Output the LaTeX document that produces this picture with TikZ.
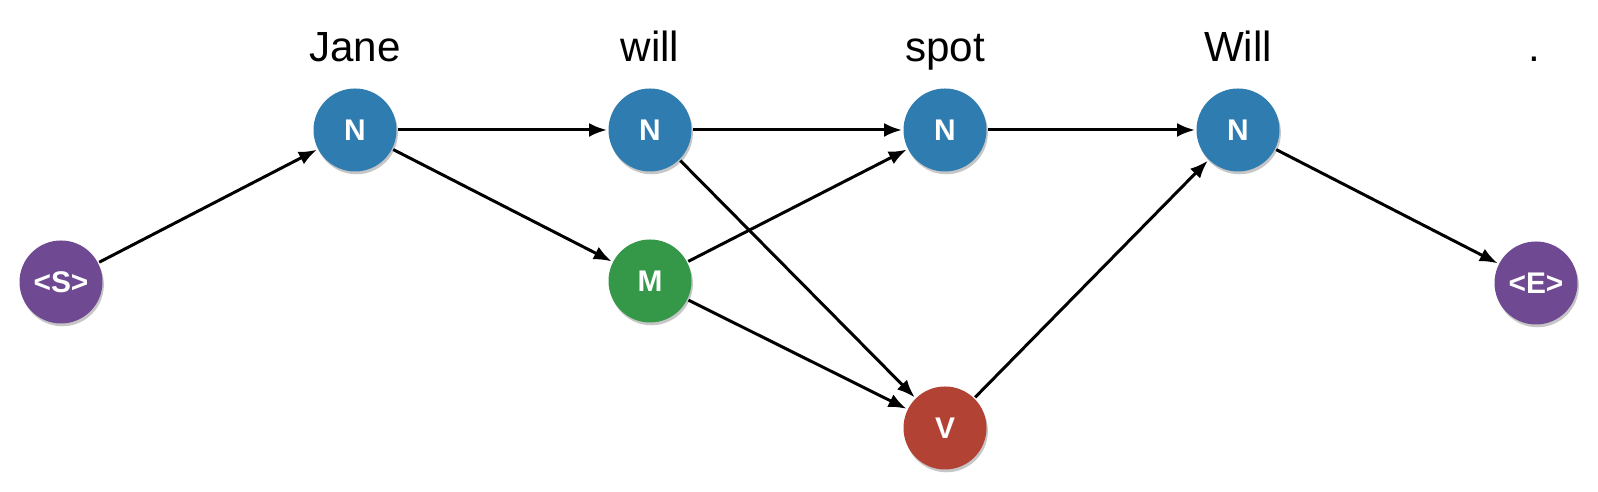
\documentclass[tikz,border=0pt]{standalone}
\usepackage{fontspec}
\setmainfont{Liberation Sans}
\usetikzlibrary{arrows.meta,shadows}
\definecolor{tagblue}{RGB}{47,125,176}
\definecolor{taggreen}{RGB}{52,152,72}
\definecolor{tagred}{RGB}{178,66,52}
\definecolor{tagpurple}{RGB}{111,73,146}
\tikzset{
  tag/.style={circle,minimum size=0.83cm,inner sep=0pt,text=white,font=\bfseries\fontsize{8.5}{8.5}\selectfont,
    drop shadow={opacity=0.45,shadow xshift=0.4pt,shadow yshift=-0.8pt}},
  word/.style={anchor=base,font=\fontsize{12}{12}\selectfont}
}
\begin{document}
\begin{tikzpicture}[>={Latex[length=1.8mm,width=1.4mm]},line width=0.85pt]
			\useasboundingbox (0,0) rectangle (15.98,4.92);
			\node[tag,fill=tagpurple] (s) at (0.61,2.10) {<S>};
			\foreach \n/\x in {n1/3.55, n2/6.50, n3/9.45, n4/12.38}
			\node[tag,fill=tagblue] (\n) at (\x,3.62) {N};
			\node[tag,fill=taggreen] (m) at (6.50,2.11) {M};
			\node[tag,fill=tagred] (v) at (9.45,0.64) {V};
			\node[tag,fill=tagpurple] (e) at (15.36,2.09) {<E>};
			% words above the top row
			\foreach \x/\w [count=\i] in {3.55/Jane, 6.50/will, 9.45/spot, 12.38/Will, 15.34/.}
			\node[word] (w\i) at (\x,4.30) {\w};
			\foreach \a/\b in {s/n1, n1/n2, n1/m, n2/n3, n2/v, m/n3, m/v, n3/n4, v/n4, n4/e}
			\draw[->] (\a) -- (\b);
		\end{tikzpicture}
\end{document}
